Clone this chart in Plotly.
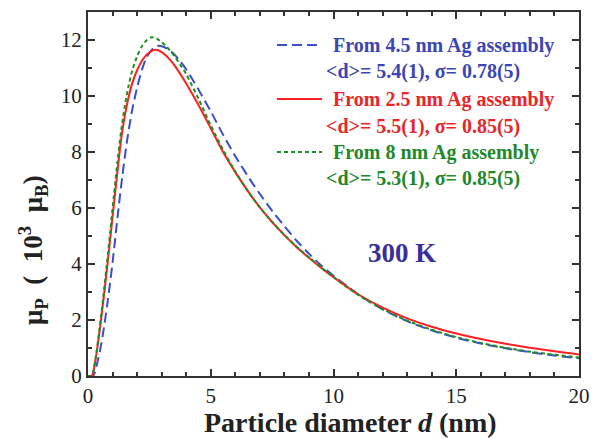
import plotly.graph_objects as go

# Particle diameter grids (nm) and moment distributions mu_P (10^3 mu_B)
d_blue = [0, 0.2, 0.4, 0.6, 0.8, 1.0, 1.2, 1.4, 1.6, 1.8, 2.0, 2.2, 2.4, 2.6, 2.8, 3.0, 3.25,
          3.5, 3.75, 4.0, 4.25, 4.5, 5.0, 5.5, 6.0, 6.5, 7.0, 7.5, 8.0, 8.5, 9.0, 9.5, 10, 11,
          12, 13, 14, 15, 16, 17, 18, 19, 20]
mu_blue = [0, 0.0, 0.55, 1.45, 2.65, 4.05, 5.65, 7.15, 8.45, 9.5, 10.3, 10.95, 11.4, 11.65, 11.78,
           11.78, 11.68, 11.5, 11.25, 10.95, 10.6, 10.23, 9.45, 8.62, 7.85, 7.15, 6.5, 5.9, 5.35,
           4.83, 4.37, 3.95, 3.58, 2.92, 2.38, 1.96, 1.63, 1.37, 1.16, 0.99, 0.85, 0.73, 0.63]

d_red = [0, 0.15, 0.3, 0.45, 0.6, 0.75, 0.9, 1.05, 1.2, 1.35, 1.5, 1.65, 1.8, 2.0, 2.25, 2.5,
         2.75, 3.0, 3.25, 3.5, 3.75, 4.0, 4.5, 5.0, 5.5, 6.0, 6.5, 7.0, 7.5, 8.0, 8.5, 9.0, 9.5,
         10, 11, 12, 13, 14, 15, 16, 17, 18, 19, 20]
mu_red = [0, 0.0, 0.55, 1.45, 2.5, 3.65, 4.85, 6.1, 7.3, 8.45, 9.3, 9.95, 10.45, 10.92, 11.33,
          11.56, 11.65, 11.57, 11.38, 11.12, 10.8, 10.45, 9.68, 8.85, 8.0, 7.28, 6.62, 6.02, 5.5,
          5.03, 4.6, 4.22, 3.86, 3.53, 2.92, 2.44, 2.06, 1.76, 1.52, 1.32, 1.15, 1.01, 0.88, 0.77]

d_green = [0, 0.15, 0.3, 0.45, 0.6, 0.75, 0.9, 1.05, 1.2, 1.35, 1.5, 1.65, 1.8, 2.0, 2.2, 2.4,
           2.6, 2.8, 3.0, 3.2, 3.5, 3.75, 4.0, 4.5, 5.0, 5.5, 6.0, 6.5, 7.0, 7.5, 8.0, 8.5, 9.0,
           9.5, 10, 11, 12, 13, 14, 15, 16, 17, 18, 19, 20]
mu_green = [0, 0.0, 0.6, 1.55, 2.65, 3.85, 5.1, 6.4, 7.65, 8.75, 9.65, 10.35, 10.9, 11.42, 11.78,
            12.0, 12.1, 12.05, 11.92, 11.76, 11.45, 11.13, 10.78, 9.9, 8.95, 8.08, 7.3, 6.62,
            6.02, 5.5, 5.04, 4.62, 4.24, 3.88, 3.53, 2.9, 2.39, 1.98, 1.65, 1.39, 1.18, 1.01,
            0.87, 0.76, 0.66]

series_names = ["From 4.5 nm Ag assembly", "From 2.5 nm Ag assembly", "From 8 nm Ag assembly"]
fit_labels = ["&lt;d&gt;= 5.4(1), σ= 0.78(5)", "&lt;d&gt;= 5.5(1), σ= 0.85(5)",
              "&lt;d&gt;= 5.3(1), σ= 0.85(5)"]
line_colors = ["#3a4fc8", "#ff1f1f", "#1f8f1f"]
text_colors = ["#3b46b4", "#e8262a", "#23882a"]
dashes = ["10px,5px", "solid", "4px,3px"]

FONT = "Liberation Serif, Times New Roman, serif"

fig = go.Figure()
for xs, ys, name, col, dash in zip([d_blue, d_red, d_green], [mu_blue, mu_red, mu_green],
                                   series_names, line_colors, dashes):
    fig.add_trace(go.Scatter(x=xs, y=ys, mode="lines", name=name,
                             line=dict(color=col, width=2, dash=dash, shape="spline", smoothing=0.8),
                             showlegend=False))

# plot-area geometry in pixels, used to place the text blocks in paper units
PX0, PY0, PW, PH = 88, 12, 491, 364


def px_x(px):
    return (px - PX0) / PW


def px_y(py):
    return 1 - (py - PY0) / PH


# legend block: sample line plus two lines of coloured text per series
leg_rows = [45, 99, 152]
for i, (name, fit, lc, tc, dash) in enumerate(zip(series_names, fit_labels, line_colors,
                                                   text_colors, dashes)):
    y1 = px_y(leg_rows[i])
    y2 = px_y(leg_rows[i] + 27)
    fig.add_shape(type="line", xref="paper", yref="paper",
                  x0=px_x(277), x1=px_x(322), y0=y1, y1=y1,
                  line=dict(color=lc, width=2, dash=dash))
    fig.add_annotation(text=f"<b>{name}</b>", xref="paper", yref="paper",
                       x=px_x(331), y=y1, xanchor="left", yanchor="middle",
                       showarrow=False, font=dict(family=FONT, size=20, color=tc))
    fig.add_annotation(text=f"<b>{fit}</b>", xref="paper", yref="paper",
                       x=px_x(324), y=y2, xanchor="left", yanchor="middle",
                       showarrow=False, font=dict(family=FONT, size=20, color=tc))

fig.add_annotation(text="<b>300 K</b>", xref="x", yref="y", x=12.8, y=4.4,
                   showarrow=False, font=dict(family=FONT, size=27, color="#3a2f9a"))

# axis titles
fig.add_annotation(text="<b>Particle diameter <i>d</i> (nm)</b>", xref="paper", yref="paper",
                   x=px_x(350), y=px_y(422), xanchor="center", yanchor="middle",
                   showarrow=False, font=dict(family=FONT, size=28, color="#222222"))
fig.add_annotation(text="<b>μ<sub>P</sub>  (  10<sup>3</sup>  μ<sub>B</sub>)</b>",
                   xref="paper", yref="paper", x=px_x(33), y=px_y(250),
                   xanchor="center", yanchor="middle", textangle=-90,
                   showarrow=False, font=dict(family=FONT, size=27, color="#222222"))

axis_common = dict(showline=True, linecolor="#333333", linewidth=2, mirror="ticks",
                   ticks="inside", ticklen=7, tickwidth=2, tickcolor="#333333",
                   showgrid=False, zeroline=False, automargin=False,
                   tickfont=dict(family=FONT, size=21, color="#222222"))

fig.update_xaxes(range=[0, 20], tickvals=[0, 5, 10, 15, 20],
                 minor=dict(dtick=1, ticks="inside", ticklen=4, tickwidth=1.5, tickcolor="#333333"),
                 **axis_common)
fig.update_yaxes(range=[0, 13], tickvals=[0, 2, 4, 6, 8, 10, 12],
                 minor=dict(dtick=1, ticks="inside", ticklen=4, tickwidth=1.5, tickcolor="#333333"),
                 **axis_common)

fig.update_layout(width=593, height=439, margin=dict(l=PX0, r=593 - PX0 - PW, t=PY0, b=439 - PY0 - PH),
                  plot_bgcolor="white", paper_bgcolor="white")

fig.write_html("out.html")
